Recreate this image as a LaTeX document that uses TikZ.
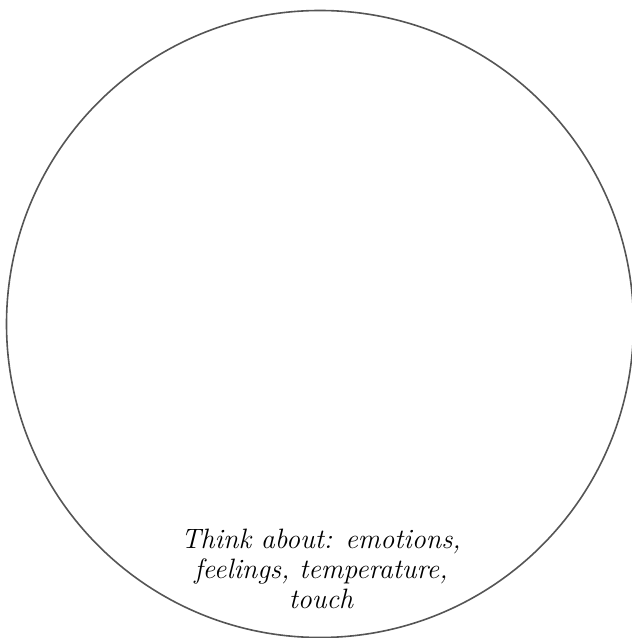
\documentclass[tikz,border=0pt]{standalone}
\usepackage{tikz}
\usepackage{xcolor}
\usetikzlibrary{positioning}
\definecolor{rimgray}{HTML}{555555}

\begin{document}
\begin{tikzpicture}[x=1pt, y=1pt,
  rim/.style={circle, draw=rimgray, line width=1.6pt, minimum size=627pt, inner sep=0pt},
  hint/.style={font=\fontsize{28}{30}\selectfont\itshape, align=center, text=black}
]
  \useasboundingbox (0,0) rectangle (632,638);
  \node[rim] (disk) at (320,314) {};
  \node[hint] (prompt) at (321,69)
    {Think about: emotions,\\feelings, temperature,\\touch};
\end{tikzpicture}
\end{document}
